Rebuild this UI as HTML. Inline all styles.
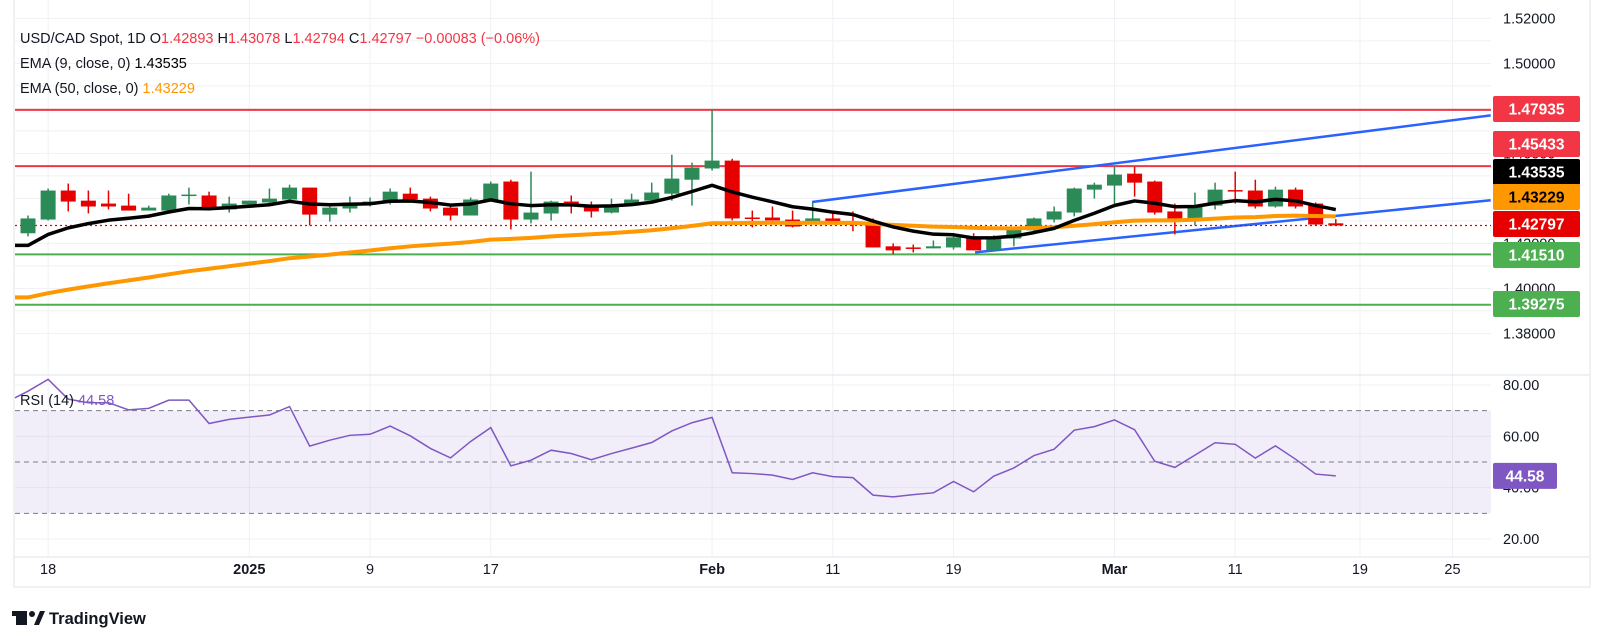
<!DOCTYPE html>
<html><head><meta charset="utf-8"><style>
html,body{margin:0;padding:0;background:#fff;}
svg{display:block;font-family:"Liberation Sans",sans-serif;}
</style></head><body>
<svg id="chart" width="1602" height="644" viewBox="0 0 1602 644" xmlns="http://www.w3.org/2000/svg">
<rect x="0" y="0" width="1602" height="644" fill="#fff"/>
<g id="grid"></g>
<g id="rsiBand"></g>
<g id="levels"></g>
<g id="candles"></g>
<g id="lines"></g>
<g id="axis"></g>
<g id="tags"></g>
<g font-size="14.5" fill="#131722">
<text x="20" y="43">USD/CAD Spot, 1D  <tspan>O</tspan><tspan fill="#f23645">1.42893</tspan>  H<tspan fill="#f23645">1.43078</tspan>  L<tspan fill="#f23645">1.42794</tspan>  C<tspan fill="#f23645">1.42797</tspan>  <tspan fill="#f23645">−0.00083 (−0.06%)</tspan></text>
<text x="20" y="68">EMA (9, close, 0)  <tspan fill="#000">1.43535</tspan></text>
<text x="20" y="93">EMA (50, close, 0)  <tspan fill="#ff9800">1.43229</tspan></text>
<text x="20" y="405">RSI (14)  <tspan fill="#7e57c2">44.58</tspan></text>
</g>
<g>
<rect x="16" y="611" width="11" height="14" fill="#131722"/>
<rect x="12" y="611" width="15" height="5" fill="#131722"/>
<circle cx="32" cy="614" r="3" fill="#131722"/>
<polygon points="34,625 40,611 45,611 39,625" fill="#131722"/>
<text x="49" y="624" font-size="16.5" font-weight="bold" fill="#131722">TradingView</text>
</g>
</svg>
<script>
const closesSeedEma9 = 1.4191;
const seedEma50 = 1.3960;
const opens  = [1.4245,1.4306,1.4435,1.4390,1.4377,1.4368,1.4346,1.4346,1.4415,1.4413,1.4351,1.4373,1.4382,1.4395,1.4448,1.4328,1.4355,1.4377,1.4382,1.4421,1.4399,1.4359,1.4324,1.4390,1.4475,1.4306,1.4333,1.4386,1.4373,1.4337,1.4368,1.4390,1.4421,1.4483,1.4533,1.4568,1.4315,1.4315,1.4306,1.4289,1.4311,1.4289,1.4284,1.4187,1.4182,1.4178,1.4182,1.4227,1.4169,1.4222,1.4258,1.4306,1.4337,1.4439,1.4457,1.4510,1.4475,1.4342,1.4302,1.4368,1.4437,1.4435,1.4364,1.4439,1.4377,1.42893];
const highs  = [1.4324,1.4444,1.4466,1.4435,1.4435,1.4421,1.4368,1.4421,1.4448,1.4430,1.4408,1.4390,1.4444,1.4461,1.4448,1.4368,1.4408,1.4404,1.4444,1.4448,1.4408,1.4368,1.4404,1.4475,1.4483,1.4519,1.4390,1.4413,1.4386,1.4399,1.4421,1.4470,1.4594,1.4559,1.4794,1.4576,1.4346,1.4364,1.4346,1.4382,1.4346,1.4342,1.4311,1.4200,1.4195,1.4213,1.4245,1.4245,1.4236,1.4267,1.4315,1.4364,1.4448,1.4470,1.4541,1.4541,1.4479,1.4377,1.4426,1.4470,1.4519,1.4483,1.4452,1.4448,1.4382,1.43078];
const lows   = [1.4231,1.4302,1.4342,1.4333,1.4351,1.4346,1.4346,1.4346,1.4373,1.4346,1.4337,1.4373,1.4368,1.4382,1.4280,1.4297,1.4337,1.4364,1.4373,1.4386,1.4342,1.4302,1.4324,1.4386,1.4262,1.4289,1.4302,1.4333,1.4315,1.4333,1.4368,1.4390,1.4390,1.4368,1.4524,1.4302,1.4271,1.4302,1.4271,1.4289,1.4284,1.4254,1.4182,1.4152,1.4160,1.4178,1.4173,1.4169,1.4169,1.4187,1.4245,1.4293,1.4320,1.4399,1.4368,1.4408,1.4328,1.4240,1.4280,1.4351,1.4377,1.4355,1.4359,1.4355,1.4280,1.42794];
const closes = [1.4311,1.4435,1.4386,1.4364,1.4364,1.4346,1.4359,1.4413,1.4417,1.4351,1.4377,1.4390,1.4399,1.4448,1.4328,1.4359,1.4382,1.4386,1.4430,1.4395,1.4355,1.4324,1.4395,1.4466,1.4306,1.4337,1.4386,1.4368,1.4342,1.4373,1.4395,1.4426,1.4488,1.4537,1.4568,1.4311,1.4313,1.4302,1.4275,1.4311,1.4284,1.4287,1.4182,1.4169,1.4180,1.4187,1.4227,1.4169,1.4227,1.4262,1.4311,1.4342,1.4444,1.4461,1.4506,1.4470,1.4337,1.4302,1.4368,1.4439,1.4433,1.4364,1.4439,1.4364,1.4284,1.42797];
const rsiPre = 75.0;
const rsiValues = [77.6,82.2,74.5,73.1,73.1,70.3,70.9,74.1,74.1,65.0,66.6,67.5,68.3,71.6,56.2,58.5,60.4,60.8,64.0,60.2,55.3,51.6,58.0,63.4,48.5,50.7,54.6,53.3,50.9,53.3,55.4,57.6,62.1,65.3,67.4,45.8,45.5,44.9,43.2,45.8,44.3,43.9,37.1,36.4,37.3,38.0,42.4,38.4,44.5,47.7,52.5,55.0,62.4,63.8,66.4,62.6,50.3,47.9,52.7,57.5,56.9,51.5,56.3,51.1,45.3,44.58];
const priceTicks = [1.52,1.50,1.48,1.46,1.44,1.42,1.40,1.38];
const priceTickLabels = ["1.52000","1.50000","1.48000","1.46000","1.44000","1.42000","1.40000","1.38000"];
const rsiTicks = [80,60,40,20];
const rsiTickLabels = ["80.00","60.00","40.00","20.00"];
const timeTickIdx = [1,11,17,23,34,40,46,54,60,66.2,70.8];
const timeTickLabels = ["18","2025","9","17","Feb","11","19","Mar","11","19","25"];
const timeTickBold = [false,true,false,false,true,false,false,true,false,false,false];
const resistLevels = [1.47935,1.45433];
const supportLevels = [1.41510,1.39275];
const lastPrice = 1.42797;
const ema9Last = 1.43535, ema50Last = 1.43229, rsiLast = 44.58;

const NS="http://www.w3.org/2000/svg";
const L=15,R=1491,RT=375,RB=557;
const bx=i=>28+20.12*i;
const py=p=>18.4+(1.52-p)*2250;
const ry=v=>385+(80-v)*2.567;
function mk(parent,tag,attrs){const e=document.createElementNS(NS,tag);for(const k in attrs)e.setAttribute(k,attrs[k]);document.getElementById(parent).appendChild(e);return e;}

for(let p=1.52;p>=1.375;p-=0.01){const e=mk('grid','line',{x1:L,x2:R,y1:py(p),y2:py(p),stroke:'#f0f1f4','stroke-width':1});

}
[80,60,40,20].forEach(v=>{const e=mk('grid','line',{x1:L,x2:R,y1:ry(v),y2:ry(v),stroke:'#f0f1f4'});

});
timeTickIdx.forEach(i=>{const e=mk('grid','line',{x1:bx(i),x2:bx(i),y1:0,y2:RB,stroke:'#f0f1f4'});

});
let fr=mk('axis','rect',{x:14,y:-1,width:1576,height:588,fill:'none',stroke:'#e0e3eb'});


let sep=mk('axis','line',{x1:14,x2:1590,y1:RT,y2:RT,stroke:'#e0e3eb'});


let sep2=mk('axis','line',{x1:14,x2:1590,y1:RB,y2:RB,stroke:'#e0e3eb'});



let band=mk('rsiBand','rect',{x:L,y:ry(70),width:R-L,height:ry(30)-ry(70),fill:'rgba(126,87,194,0.1)'});


[70,50,30].forEach(v=>{const e=mk('rsiBand','line',{x1:L,x2:R,y1:ry(v),y2:ry(v),stroke:'#787b86','stroke-dasharray':'5,4'});

});

resistLevels.forEach(p=>{const e=mk('levels','line',{x1:L,x2:R,y1:py(p),y2:py(p),stroke:'#f23645','stroke-width':2});

});
supportLevels.forEach(p=>{const e=mk('levels','line',{x1:L,x2:R,y1:py(p),y2:py(p),stroke:'#4caf50','stroke-width':2});

});
let up=mk('levels','line',{x1:bx(38.97),y1:py(1.4384),x2:bx(72.7),y2:py(1.4769),stroke:'#2962ff','stroke-width':2.5});


let lo=mk('levels','line',{x1:bx(47.07),y1:py(1.4160),x2:bx(72.7),y2:py(1.4392),stroke:'#2962ff','stroke-width':2.5});


let lp=mk('levels','line',{x1:L,x2:R,y1:py(lastPrice),y2:py(lastPrice),stroke:'#e60000','stroke-dasharray':'2,3','stroke-width':1.2});



for(let i=0;i<closes.length;i++){
  const isUp=closes[i]>=opens[i];const col=isUp?'#2c8a57':'#e60000';const x=bx(i);
  const w=mk('candles','line',{x1:x,x2:x,y1:py(highs[i]),y2:py(lows[i]),stroke:col,'stroke-width':1.5});
  
  
  const t=py(Math.max(opens[i],closes[i])),b=py(Math.min(opens[i],closes[i]));
  const r=mk('candles','rect',{x:x-7.5,y:t,width:15,height:Math.max(1.5,b-t),fill:col});
  
  
}

function ema(seed,n){const a=2/(n+1);const out=[];let v=seed;for(let i=0;i<closes.length;i++){if(i>0)v=v+a*(closes[i]-v);out.push(v);}return out;}
const e9=ema(closesSeedEma9,9),e50=ema(seedEma50,50);
function pathFrom(arr,yf){let d='M'+L+','+yf(arr[0]);arr.forEach((v,i)=>{d+=' L'+bx(i)+','+yf(v);});return d;}
let p50=mk('lines','path',{d:pathFrom(e50,py),fill:'none',stroke:'#ff9800','stroke-width':4,'stroke-linejoin':'round'});


let p9=mk('lines','path',{d:pathFrom(e9,py),fill:'none',stroke:'#000','stroke-width':3.5,'stroke-linejoin':'round'});


let rd='M'+L+','+ry(rsiPre);rsiValues.forEach((v,i)=>{rd+=' L'+bx(i)+','+ry(v);});
let rp=mk('lines','path',{d:rd,fill:'none',stroke:'#7e57c2','stroke-width':1.5});



priceTicks.forEach((p,k)=>{const t=mk('axis','text',{x:1503,y:py(p)+5,'font-size':14.5,fill:'#131722'});t.textContent=priceTickLabels[k];

});
rsiTicks.forEach((v,k)=>{const t=mk('axis','text',{x:1503,y:ry(v)+5,'font-size':14.5,fill:'#131722'});t.textContent=rsiTickLabels[k];

});
timeTickIdx.forEach((i,k)=>{const t=mk('axis','text',{x:bx(i),y:574,'font-size':14.5,fill:'#131722','text-anchor':'middle','font-weight':timeTickBold[k]?'bold':'normal'});t.textContent=timeTickLabels[k];

});

const tagList=[[resistLevels[0],109,'#f23645','#fff'],[resistLevels[1],144,'#f23645','#fff'],[ema9Last,172,'#000','#fff'],[ema50Last,197,'#ff9800','#000'],[lastPrice,224,'#e60000','#fff'],[supportLevels[0],255,'#4caf50','#fff'],[supportLevels[1],304,'#4caf50','#fff']];
tagList.forEach(([v,cy,bg,fg])=>{const r=mk('tags','rect',{x:1493,y:cy-13,width:87,height:26,rx:2,fill:bg});


const t=mk('tags','text',{x:1536.5,y:cy+5.5,'font-size':15.5,'font-weight':'bold',fill:fg,'text-anchor':'middle'});t.textContent=v.toFixed(5);

});
let rr=mk('tags','rect',{x:1493,y:ry(rsiLast)-13,width:64,height:26,rx:2,fill:'#7e57c2'});


let rt=mk('tags','text',{x:1525,y:ry(rsiLast)+5.5,'font-size':15.5,'font-weight':'bold',fill:'#fff','text-anchor':'middle'});rt.textContent=rsiLast.toFixed(2);


</script>
</body></html>
